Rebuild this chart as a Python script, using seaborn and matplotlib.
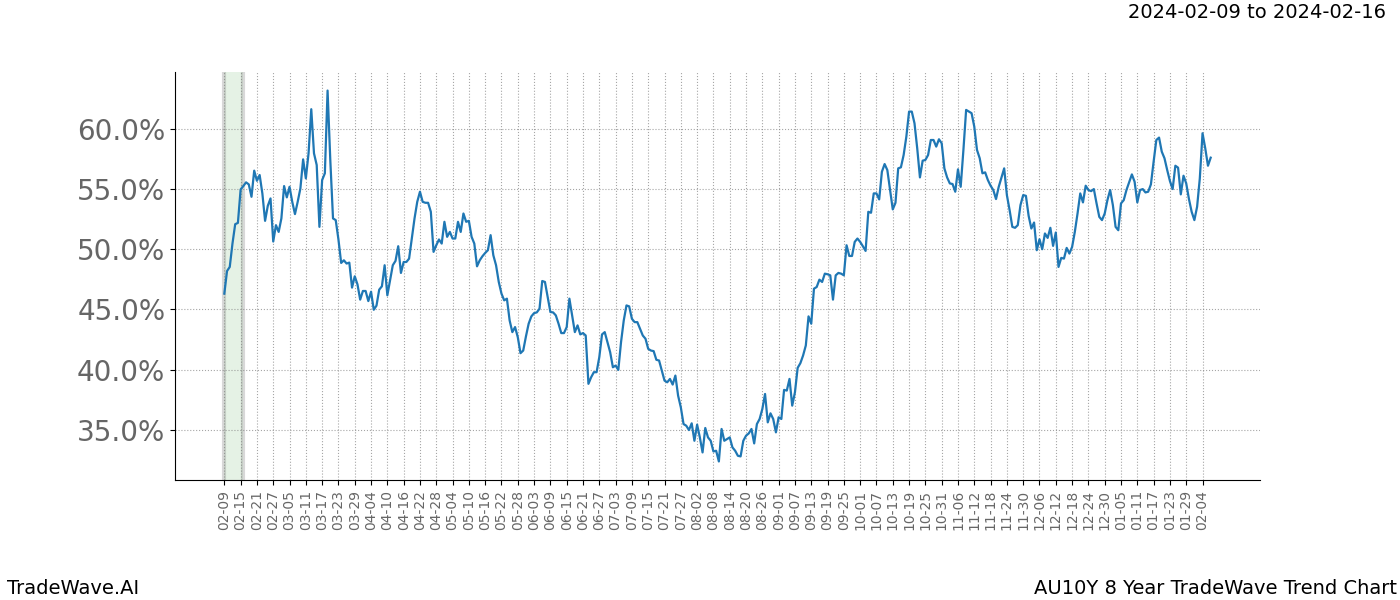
import matplotlib
matplotlib.use("Agg")
import matplotlib.pyplot as plt
import seaborn as sns
import numpy as np
import pandas as pd

title_range = "2024-02-09 to 2024-02-16"
footer_left = "TradeWave.AI"
footer_right = "AU10Y 8 Year TradeWave Trend Chart"

tick_labels = ["02-09", "02-15", "02-21", "02-27", "03-05", "03-11", "03-17", "03-23", "03-29",
               "04-04", "04-10", "04-16", "04-22", "04-28", "05-04", "05-10", "05-16", "05-22",
               "05-28", "06-03", "06-09", "06-15", "06-21", "06-27", "07-03", "07-09", "07-15",
               "07-21", "07-27", "08-02", "08-08", "08-14", "08-20", "08-26", "09-01", "09-07",
               "09-13", "09-19", "09-25", "10-01", "10-07", "10-13", "10-19", "10-25", "10-31",
               "11-06", "11-12", "11-18", "11-24", "11-30", "12-06", "12-12", "12-18", "12-24",
               "12-30", "01-05", "01-11", "01-17", "01-23", "01-29", "02-04"]

trend_pct = [
    46.31, 48.19, 48.53, 50.47, 52.08, 52.19, 54.97, 55.25, 55.56, 55.39,
    54.36, 56.53, 55.69, 56.17, 54.64, 52.36, 53.61, 54.22, 50.64, 52.0,
    51.44, 52.56, 55.25, 54.31, 55.19, 53.94, 52.92, 53.94, 55.06, 57.47,
    55.89, 57.97, 61.64, 57.97, 57.0, 51.86, 55.75, 56.31, 63.19, 57.42,
    52.56, 52.42, 50.81, 48.86, 49.08, 48.81, 48.89, 46.81, 47.75, 47.08,
    45.81, 46.53, 46.53, 45.69, 46.47, 44.97, 45.31, 46.64, 46.92, 48.67,
    46.17, 47.42, 48.67, 49.03, 50.25, 48.03, 48.94, 48.94, 49.22, 50.89,
    52.56, 53.94, 54.78, 53.94, 53.86, 53.86, 53.11, 49.78, 50.33, 50.81,
    50.47, 52.28, 51.03, 51.44, 50.89, 50.89, 52.28, 51.44, 52.97, 52.28,
    52.36, 51.03, 50.47, 48.58, 49.08, 49.42, 49.69, 49.92, 51.17, 49.5,
    48.67, 47.28, 46.31, 45.75, 45.89, 44.08, 43.11, 43.53, 42.69, 41.36,
    41.58, 42.75, 43.81, 44.42, 44.69, 44.75, 45.06, 47.36, 47.28, 46.03,
    44.78, 44.75, 44.5, 43.81, 43.03, 43.03, 43.53, 45.89, 44.5, 43.11,
    43.67, 42.92, 43.03, 42.83, 38.81, 39.36, 39.78, 39.78, 41.03, 42.92,
    43.11, 42.28, 41.44, 40.19, 40.33, 39.97, 42.28, 44.08, 45.33, 45.25,
    44.22, 43.94, 43.94, 43.39, 42.83, 42.56, 41.72, 41.58, 41.53, 40.81,
    40.75, 39.92, 39.08, 38.94, 39.22, 38.75, 39.5, 37.83, 36.86, 35.47,
    35.33, 34.97, 35.53, 34.08, 35.42, 34.36, 33.11, 35.14, 34.36, 34.08,
    33.19,
    33.25, 32.36, 35.06, 34.08, 34.22, 34.36, 33.53, 33.25, 32.83, 32.78,
    34.08, 34.5, 34.69, 35.06, 33.86, 35.47, 35.89, 36.72, 37.97, 35.61,
    36.36, 35.89, 34.78, 36.03, 35.89, 38.31, 38.25, 39.22, 37.0, 38.11,
    40.14, 40.53, 41.17, 42.0, 44.42, 43.81, 46.72, 46.86, 47.47, 47.28,
    47.97, 47.92, 47.83, 45.81, 47.83, 48.03, 47.97, 47.83, 50.33, 49.44,
    49.44, 50.61, 50.89, 50.61, 50.25, 49.86, 53.11, 53.03, 54.64, 54.64,
    54.14, 56.44, 57.08, 56.58, 54.92, 53.31, 53.86, 56.72, 56.81, 57.83,
    59.36, 61.44, 61.44, 60.47, 58.39, 55.97, 57.36, 57.42, 57.83, 59.08,
    59.08, 58.53, 59.14, 58.81, 56.72, 55.97, 55.47, 55.42, 54.78, 56.64,
    55.19,
    58.25, 61.58, 61.44, 61.31, 60.19, 58.25, 57.56, 56.31, 56.39, 55.75,
    55.28, 54.92, 54.17, 55.19, 55.94, 56.72, 54.5, 53.25, 51.86, 51.78,
    52.0, 53.67, 54.5, 54.44, 52.78, 51.72, 52.22, 49.92, 50.83, 50.0,
    51.31, 50.94, 51.78, 50.28, 51.39, 48.53, 49.28, 49.22, 50.11, 49.64,
    50.19, 51.44, 52.97, 54.64, 53.89, 55.28, 54.92, 54.83, 55.0, 53.81,
    52.69, 52.42, 52.97, 54.08, 54.92, 53.67, 51.86, 51.58, 53.81, 54.08,
    54.92, 55.56, 56.22, 55.61, 53.89, 54.92, 55.0, 54.72, 54.78, 55.39,
    57.28, 59.08, 59.28, 58.11, 57.56, 56.58, 55.67, 55.0, 56.94, 56.78,
    54.56, 56.11, 55.47, 54.17, 53.11, 52.42, 53.53, 55.89, 59.64, 58.39,
    56.94, 57.61,
]

highlight_start_idx = 0
highlight_end_idx = 7
tick_step = 6
y_ticks = [35, 40, 45, 50, 55, 60]

df = pd.DataFrame({"idx": np.arange(len(trend_pct)), "pct": trend_pct})

fig = plt.figure(figsize=(14, 6), dpi=100)
ax = fig.add_axes([0.125, 0.2, 0.775, 0.68])

ax.axvspan(highlight_start_idx, highlight_end_idx, facecolor="green", alpha=0.1, zorder=0)
for edge in (highlight_start_idx, highlight_end_idx):
    ax.axvline(edge, color="grey", alpha=0.3, linewidth=3, zorder=0)

sns.lineplot(data=df, x="idx", y="pct", ax=ax, color="#1f77b4", linewidth=1.6)

ax.set_xticks(np.arange(0, len(tick_labels) * tick_step, tick_step))
ax.set_xticklabels(tick_labels, rotation=90, fontsize=10, color="#666666")
ax.set_yticks(y_ticks)
ax.set_yticklabels([f"{v:.1f}%" for v in y_ticks], fontsize=20, color="#666666")
ax.margins(x=0.05, y=0.05)

ax.grid(True, linestyle=":", color="grey", linewidth=0.8, alpha=0.7)
ax.set_axisbelow(True)
for side in ("top", "right"):
    ax.spines[side].set_visible(False)
ax.set_xlabel("")
ax.set_ylabel("")

fig.text(0.99, 0.98, title_range, ha="right", va="center", fontsize=14)
fig.text(0.005, 0.02, footer_left, ha="left", va="center", fontsize=14)
fig.text(0.998, 0.02, footer_right, ha="right", va="center", fontsize=14)

fig.savefig("out.png", dpi=100)
